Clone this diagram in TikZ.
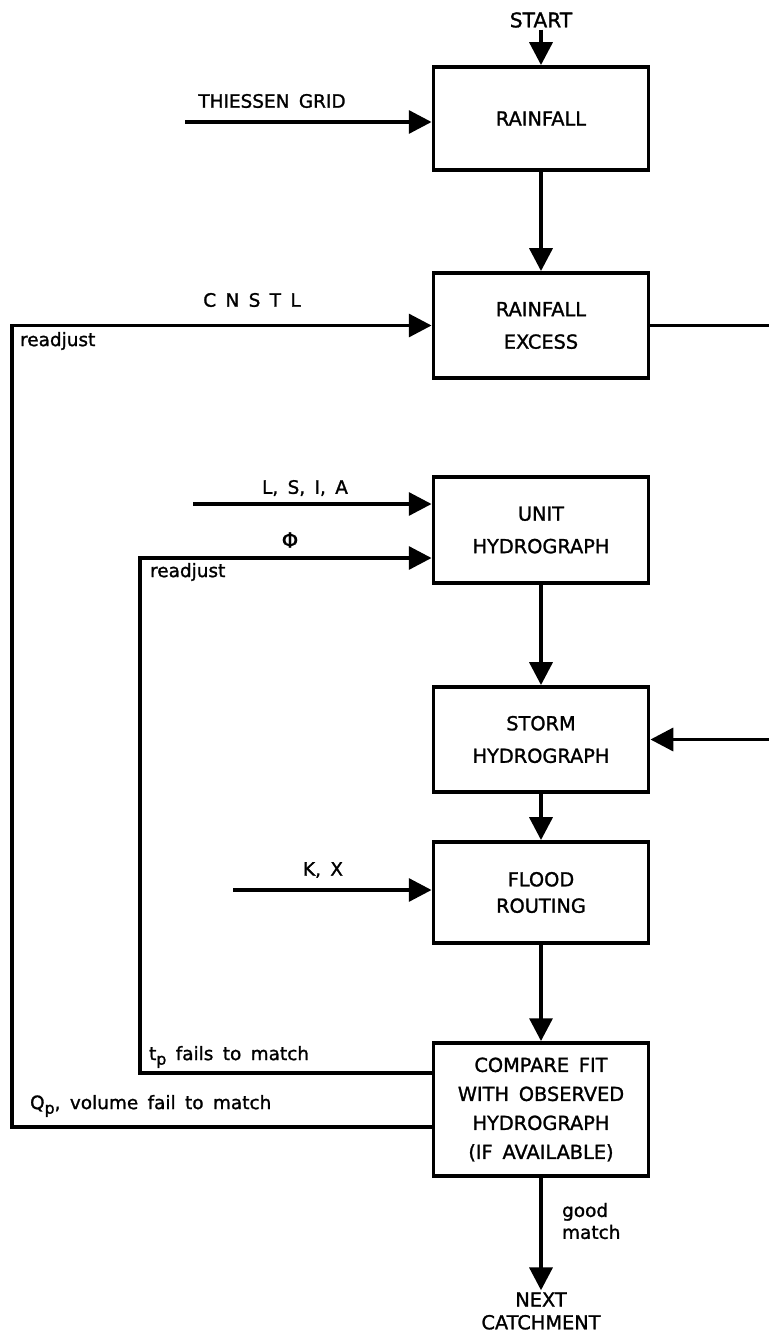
\documentclass[tikz,border=0pt]{standalone}
\usepackage{fontspec}
\setmainfont{DejaVu Sans}[WordSpace=1.6, FakeBold=1.3]
\usepackage{tikz}
\usetikzlibrary{arrows.meta,positioning}
\newcommand{\lowsub}[1]{\raisebox{-0.45ex}{\fontsize{9}{9}\selectfont #1}}
\tikzset{
  bx/.style={draw, line width=2.2pt, align=center, minimum width=4.3cm, inner sep=2pt, font=\fontsize{11}{18.5}\selectfont},
  arr/.style={-{Triangle[length=13pt,width=13pt]}, line width=2.2pt},
  lbl/.style={font=\fontsize{10.5}{12}\selectfont, inner sep=1pt},
  sm/.style={font=\fontsize{10.5}{12.5}\selectfont, inner sep=1pt, align=left},
}

\begin{document}
\begin{tikzpicture}[x=0.02cm, y=-0.02cm]
  \useasboundingbox (0,0) rectangle (768,1335);
  % main chain
  \node[font=\fontsize{11.5}{13}\selectfont, inner sep=1pt] (start) at (541,20) {START};
  \node[bx, minimum height=2.06cm] (rf) at (541,118.5) {RAINFALL};
  \node[bx, minimum height=2.1cm] (exc) at (541,325.5) {RAINFALL\\EXCESS};
  \node[bx, minimum height=2.12cm] (uh) at (541,530) {UNIT\\HYDROGRAPH};
  \node[bx, minimum height=2.1cm] (sh) at (541,739.5) {STORM\\HYDROGRAPH};
  \node[bx, minimum height=2.02cm, font=\fontsize{11}{15}\selectfont] (fr) at (541,892.5) {FLOOD\\ROUTING};
  \node[bx, minimum height=2.66cm, font=\fontsize{11}{16.5}\selectfont] (cmp) at (541,1109.5) {COMPARE  FIT\\WITH  OBSERVED\\HYDROGRAPH\\(IF  AVAILABLE)};
  \node[font=\fontsize{11}{13}\selectfont, align=center, inner sep=1pt] (nxt) at (541,1311) {NEXT\\CATCHMENT};
  \draw[arr] (start) -- (rf);
  \draw[arr] (rf) -- (exc);
  \draw[arr] (uh) -- (sh);
  \draw[arr] (sh) -- (fr);
  \draw[arr] (fr) -- (cmp);
  \draw[arr] (cmp) -- (nxt);
  \node[sm, anchor=west] (gml) at (560,1221) {good\\match};
  % inputs
  \coordinate (thin) at (185,122);
  \coordinate (lsin) at (193,504);
  \coordinate (kxin) at (233,890);
  \draw[arr] (thin) -- (rf.west |- thin);
  \draw[arr] (lsin) -- (uh.west |- lsin);
  \draw[arr] (kxin) -- (fr.west |- kxin);
  \node[lbl] (thl) at (272,101) {THIESSEN  GRID};
  \node[lbl] (lsl) at (305,488) {L, S, I, A};
  \node[lbl] (kxl) at (323,870) {K, X};
  % excess goes round to storm hydrograph
  \coordinate (rgt) at (776,325.5);
  \draw[arr] (exc.east) -- (rgt) |- (sh.east);
  % readjust loops
  \coordinate (qpc) at (12,1127);
  \coordinate (tpc) at (140,1073);
  \coordinate (phic) at (140,558);
  \draw[arr] (cmp.west |- qpc) -- (qpc) |- (exc.west);
  \draw[arr] (cmp.west |- tpc) -- (tpc) -- (phic) -- (uh.west |- phic);
  \node[lbl] (cnl) at (252,300) {C N S T L};
  \node[lbl, font=\fontsize{12}{12}\selectfont] (phl) at (290,540) {Φ};
  \node[sm, anchor=west] (rj1) at (18,341) {readjust};
  \node[sm, anchor=west] (rj2) at (148,572) {readjust};
  \node[sm, anchor=west] (tpl) at (147,1057) {t\lowsub{p}  fails  to  match};
  \node[sm, anchor=west] (qpl) at (28,1106) {Q\lowsub{p},  volume  fail  to  match};
\end{tikzpicture}
\end{document}
